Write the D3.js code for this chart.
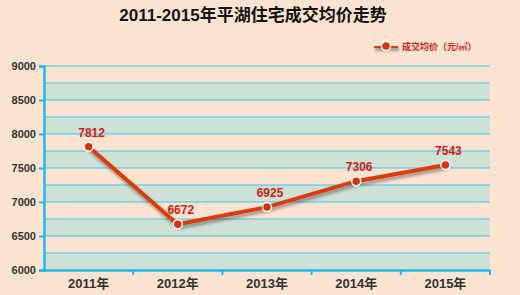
<html lang="zh">
<head>
<meta charset="UTF-8">
<script src="https://d3js.org/d3.v7.min.js"></script>
<style>
  body { margin: 0; background: #fde4d1; }
  text { font-family: "Liberation Sans", Arial, "Noto Sans CJK SC", sans-serif; }
</style>
<script>
var years = ["2011年", "2012年", "2013年", "2014年", "2015年"];
var prices = [7812, 6672, 6925, 7306, 7543];
var yTicks = [6000, 6500, 7000, 7500, 8000, 8500, 9000];
var title = "2011-2015年平湖住宅成交均价走势";
var legendLabel = "成交均价（元/㎡）";

function main(){
  var svg = d3.select("svg");
  var left = 44, right = 490, top = 66, bottom = 270;

  var x = d3.scaleBand().domain(years).range([left, right]);
  var y = d3.scaleLinear().domain([6000, 9000]).range([bottom, top]);

  var defs = svg.append("defs");
  var f = defs.append("filter").attr("id", "sh").attr("filterUnits", "userSpaceOnUse")
    .attr("x", 0).attr("y", 0).attr("width", 520).attr("height", 295);
  f.append("feDropShadow").attr("dx", 1).attr("dy", 3).attr("stdDeviation", 1.5).attr("flood-color", "#000").attr("flood-opacity", 0.35);

  svg.append("rect").attr("width", 520).attr("height", 295).attr("fill", "#fde4d1");

  // bands
  var bandStarts = d3.range(6000, 9000, 500);
  svg.selectAll(".band").data(bandStarts).enter().append("rect")
    .attr("x", left).attr("width", right - left)
    .attr("y", function(d){ return y(d + 250); })
    .attr("height", function(d){ return y(d) - y(d + 250); })
    .attr("fill", "#cfe0d5");

  // grid lines
  var grid = d3.range(6250, 9001, 250);
  svg.selectAll(".grid").data(grid).enter().append("line")
    .attr("x1", left).attr("x2", right)
    .attr("y1", function(d){ return y(d); }).attr("y2", function(d){ return y(d); })
    .attr("stroke", "#3cc6ef").attr("stroke-width", 1.2);

  // y axis
  var ya = svg.append("g").attr("transform", "translate(" + left + ",0)")
    .call(d3.axisLeft(y).tickValues(yTicks).tickFormat(d3.format("d")).tickSize(5).tickPadding(3));
  ya.select(".domain").attr("stroke", "#1fb8ef").attr("stroke-width", 2.5);
  ya.selectAll(".tick line").attr("stroke", "#1fb8ef").attr("stroke-width", 2);
  ya.selectAll(".tick text").attr("fill", "#333").attr("font-size", "11px").attr("font-weight", "bold");

  // x axis
  var xa = svg.append("g").attr("transform", "translate(0," + bottom + ")")
    .call(d3.axisBottom(x).tickSize(0).tickPadding(9));
  xa.select(".domain").attr("stroke", "#1fb8ef").attr("stroke-width", 2.5);
  xa.selectAll(".tick text").attr("fill", "#333").attr("font-size", "13px").attr("font-weight", "bold");
  var edges = years.map(function(d){ return x(d) + x.bandwidth(); });
  xa.selectAll(".edge").data(edges).enter().append("line")
    .attr("x1", function(d){ return d; }).attr("x2", function(d){ return d; })
    .attr("y1", 0).attr("y2", 5)
    .attr("stroke", "#1fb8ef").attr("stroke-width", 2);

  var cx = function(i){ return x(years[i]) + x.bandwidth() / 2; };

  // line
  var line = d3.line().x(function(d, i){ return cx(i); }).y(function(d){ return y(d); });
  svg.append("path").datum(prices).attr("d", line)
    .attr("fill", "none").attr("stroke", "#da3e10").attr("stroke-width", 4)
    .attr("stroke-linejoin", "round").attr("filter", "url(#sh)");

  svg.selectAll(".pt").data(prices).enter().append("circle")
    .attr("cx", function(d, i){ return cx(i); }).attr("cy", function(d){ return y(d); })
    .attr("r", 4.5).attr("fill", "#d9300e").attr("stroke", "#fff").attr("stroke-width", 1.5);

  svg.selectAll(".lbl").data(prices).enter().append("text")
    .attr("x", function(d, i){ return cx(i) + 3; }).attr("y", function(d){ return y(d) - 10; })
    .attr("text-anchor", "middle").attr("fill", "#d61c16")
    .attr("font-size", "12px").attr("font-weight", "bold")
    .text(function(d){ return d; });

  // title
  svg.append("text").attr("x", 253).attr("y", 21).attr("text-anchor", "middle")
    .attr("font-size", "17px").attr("font-weight", "bold").attr("fill", "#111")
    .text(title);

  // legend
  var lg = svg.append("g").attr("transform", "translate(374,46)");
  lg.append("rect").attr("x", 0).attr("y", -2).attr("width", 24).attr("height", 4)
    .attr("fill", "#da3e10").attr("filter", "url(#sh)");
  lg.append("circle").attr("cx", 12).attr("cy", 0).attr("r", 4.5)
    .attr("fill", "#d9300e").attr("stroke", "#fff").attr("stroke-width", 1.5);
  lg.append("text").attr("x", 28).attr("y", 4).attr("font-size", "9px").attr("font-weight", "bold")
    .attr("fill", "#d61c16").text(legendLabel);
}
</script>
</head>
<body onload="main();">
<svg width="520" height="295"></svg>
</body>
</html>
